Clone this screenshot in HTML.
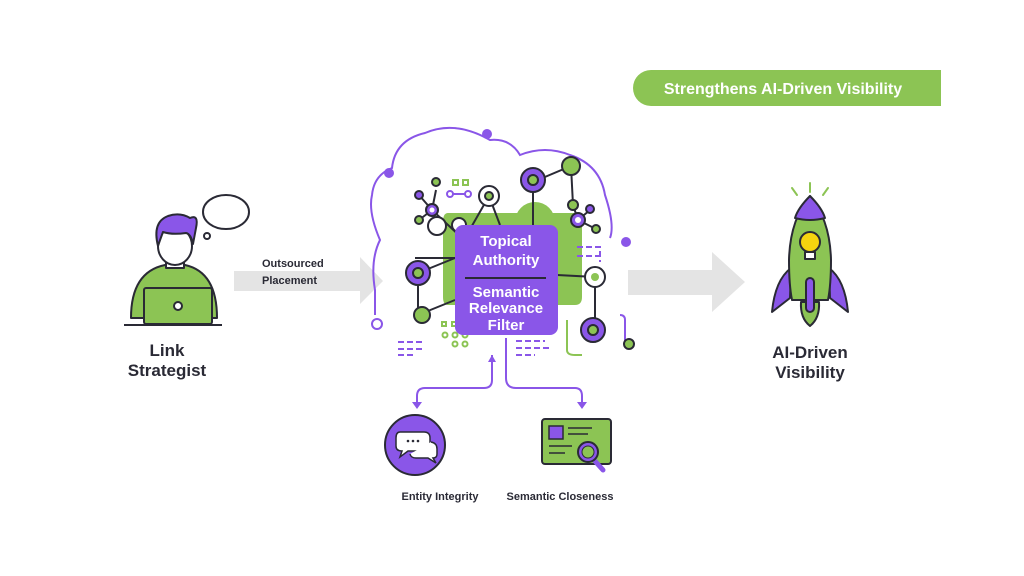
<!DOCTYPE html>
<html><head><meta charset="utf-8"><style>
html,body{margin:0;padding:0;background:#fff;width:1024px;height:576px;overflow:hidden}
svg{display:block}
text{font-family:"Liberation Sans",sans-serif;font-weight:bold}
</style></head><body>
<svg width="1024" height="576" viewBox="0 0 1024 576" xmlns="http://www.w3.org/2000/svg">
<!-- green pill -->
<path d="M651 70 H941 V106 H651 A18 18 0 0 1 651 70 Z" fill="#8cc454"/>
<text x="783" y="94" font-size="16" fill="#fff" text-anchor="middle">Strengthens AI-Driven Visibility</text>

<!-- person -->
<g stroke="#2a2a35" stroke-width="2" stroke-linejoin="round">
<path d="M131 318 Q131 272 165 265 L185 265 Q217 272 217 318 Z" fill="#8cc454"/>
<rect x="166" y="252" width="18" height="16" fill="#fff"/>
<ellipse cx="175" cy="246" rx="17" ry="19" fill="#fff"/>
<path d="M158 246 Q152 222 168 216 Q180 212 190 218 Q199 214 196 228 L193 244 Q191 234 186 233 Q172 235 163 232 Q160 240 158 246 Z" fill="#8a56e8"/>
<rect x="144" y="288" width="68" height="36" rx="2" fill="#8cc454"/>
<circle cx="178" cy="306" r="4" fill="#fff"/>
<ellipse cx="226" cy="212" rx="23" ry="17" fill="#fff"/>
<circle cx="207" cy="236" r="3" fill="#fff"/>
</g>
<line x1="124" y1="325" x2="222" y2="325" stroke="#2a2a35" stroke-width="2"/>
<text x="167" y="356" font-size="17" fill="#2a2a35" text-anchor="middle">Link</text>
<text x="167" y="376" font-size="17" fill="#2a2a35" text-anchor="middle">Strategist</text>

<!-- arrow 1 -->
<path d="M234 271 H360 V257 L383 281 L360 304 V291 H234 Z" fill="#e4e4e4"/>
<text x="262" y="267" font-size="11" fill="#2a2a35">Outsourced</text>
<text x="262" y="284" font-size="11" fill="#2a2a35">Placement</text>

<!-- cloud -->
<path d="M375 315 V290 Q370 260 380 240 Q368 212 372 195 Q374 175 392 168 Q395 140 425 133 Q455 120 490 140 Q510 138 520 155 Q545 145 570 155 Q600 165 605 195 Q615 225 610 238" fill="none" stroke="#8a56e8" stroke-width="2"/>
<circle cx="626" cy="242" r="5" fill="#8a56e8"/>
<circle cx="389" cy="173" r="5" fill="#8a56e8"/>
<circle cx="487" cy="134" r="5" fill="#8a56e8"/>
<circle cx="377" cy="324" r="5" fill="none" stroke="#8a56e8" stroke-width="2"/>
<path d="M625 342 V320 Q625 315 620 315" fill="none" stroke="#8a56e8" stroke-width="2"/>
<circle cx="629" cy="344" r="5" fill="#8cc454" stroke="#2a2a35" stroke-width="2"/>

<!-- green blob -->
<path d="M448 213 H575 Q582 213 582 222 V297 Q582 305 575 305 H448 Q443 305 443 297 V222 Q443 213 448 213 Z" fill="#8cc454"/>
<circle cx="535" cy="222" r="20" fill="#8cc454"/>

<!-- network lines -->
<g stroke="#2a2a35" stroke-width="2" fill="none">
<path d="M432 210 L462 238 M419 195 L432 210 M419 220 L432 210 M436 190 L432 210"/>
<path d="M489 196 L465 238 M489 196 L500 225"/>
<path d="M418 273 L455 258 M418 273 L418 315 M418 315 L455 300 M415 258 L455 258"/>
<path d="M533 182 L533 230 M533 182 L571 166 L573 205 L578 220 M578 220 L590 210 M578 220 L596 229"/>
<path d="M557 275 L595 277 L595 330"/>
</g>
<!-- nodes -->
<g stroke="#2a2a35" stroke-width="2">
<circle cx="432" cy="210" r="6" fill="#8a56e8"/><circle cx="432" cy="210" r="2.5" fill="#fff" stroke="none"/>
<circle cx="419" cy="195" r="4" fill="#8a56e8"/>
<circle cx="436" cy="182" r="4" fill="#8cc454"/>
<circle cx="419" cy="220" r="4" fill="#8cc454"/>
<circle cx="489" cy="196" r="10" fill="#fff"/><circle cx="489" cy="196" r="4" fill="#8cc454"/>
<circle cx="437" cy="226" r="9" fill="#fff"/>
<circle cx="459" cy="225" r="7" fill="#fff"/>
<circle cx="418" cy="273" r="12" fill="#8a56e8"/><circle cx="418" cy="273" r="5" fill="#8cc454"/>
<circle cx="422" cy="315" r="8" fill="#8cc454"/>
<circle cx="533" cy="180" r="12" fill="#8a56e8"/><circle cx="533" cy="180" r="5" fill="#8cc454"/>
<circle cx="571" cy="166" r="9" fill="#8cc454"/>
<circle cx="573" cy="205" r="5" fill="#8cc454"/>
<circle cx="578" cy="220" r="7" fill="#8a56e8"/><circle cx="578" cy="220" r="3" fill="#fff" stroke="none"/>
<circle cx="590" cy="209" r="4" fill="#8a56e8"/>
<circle cx="596" cy="229" r="4" fill="#8cc454"/>
<circle cx="595" cy="277" r="10" fill="#fff"/><circle cx="595" cy="277" r="4" fill="#8cc454" stroke="none"/>
<circle cx="593" cy="330" r="12" fill="#8a56e8"/><circle cx="593" cy="330" r="5" fill="#8cc454"/>
</g>
<g fill="none" stroke="#8cc454" stroke-width="2">
<rect x="453" y="180" width="5" height="5"/><rect x="463" y="180" width="5" height="5"/>
<rect x="442" y="322" width="4" height="4"/><rect x="452" y="322" width="4" height="4"/>
<circle cx="445" cy="335" r="2.5"/><circle cx="455" cy="335" r="2.5"/><circle cx="465" cy="335" r="2.5"/>
<circle cx="455" cy="344" r="2.5"/><circle cx="465" cy="344" r="2.5"/>
</g>
<path d="M452 194 H468" stroke="#8a56e8" stroke-width="2"/>
<circle cx="450" cy="194" r="3" fill="#fff" stroke="#8a56e8" stroke-width="2"/><circle cx="468" cy="194" r="3" fill="#fff" stroke="#8a56e8" stroke-width="2"/>
<g stroke="#8a56e8" stroke-width="2" fill="none">
<path d="M398 342 H425 M398 349 H425 M398 355 H415 M516 341 H545 M516 348 H550 M516 355 H535 M577 247 H600 V262 M577 256 H600" stroke-dasharray="6 3"/>
<path d="M567 320 V350 Q567 355 575 355 H582" stroke="#8cc454"/>
</g>

<!-- central box -->
<rect x="455" y="225" width="103" height="110" rx="8" fill="#8a56e8"/>
<g fill="#fff" font-size="15" text-anchor="middle">
<text x="506" y="246">Topical</text>
<text x="506" y="265">Authority</text>
<text x="506" y="297">Semantic</text>
<text x="506" y="313">Relevance</text>
<text x="506" y="330">Filter</text>
</g>
<line x1="465" y1="278" x2="546" y2="278" stroke="#2a2a35" stroke-width="2"/>

<!-- bottom connectors -->
<g fill="none" stroke="#8a56e8" stroke-width="2">
<path d="M492 355 V380 Q492 388 484 388 H425 Q417 388 417 396 V402"/>
<path d="M506 338 V378 Q506 388 516 388 H575 Q582 388 582 396 V402"/>
</g>
<path d="M412 402 L422 402 L417 409 Z M577 402 L587 402 L582 409 Z M488 362 L496 362 L492 355 Z" fill="#8a56e8"/>

<!-- entity icon -->
<circle cx="415" cy="445" r="30" fill="#8a56e8" stroke="#2a2a35" stroke-width="2"/>
<path d="M400 432 H424 Q430 432 430 438 V446 Q430 451 424 451 H408 L400 457 L402 451 Q396 451 396 446 V438 Q396 432 400 432 Z" fill="#fff" stroke="#2a2a35" stroke-width="1.5"/>
<path d="M431 442 Q437 443 437 449 V454 Q437 458 433 458 L436 463 L428 458 H416 Q411 458 410 454" fill="#fff" stroke="#2a2a35" stroke-width="1.5"/>
<circle cx="408" cy="441" r="1.3" fill="#2a2a35"/><circle cx="413" cy="441" r="1.3" fill="#2a2a35"/><circle cx="418" cy="441" r="1.3" fill="#2a2a35"/>

<!-- card icon -->
<rect x="542" y="419" width="69" height="45" rx="3" fill="#8cc454" stroke="#2a2a35" stroke-width="2"/>
<rect x="549" y="426" width="14" height="13" fill="#8a56e8" stroke="#2a2a35" stroke-width="1.5"/>
<g stroke="#2a2a35" stroke-width="1.5"><path d="M568 428 H592 M568 434 H588 M549 446 H572 M549 453 H565"/></g>
<line x1="594" y1="460" x2="603" y2="470" stroke="#8a56e8" stroke-width="5" stroke-linecap="round"/>
<circle cx="588" cy="452" r="10" fill="#8a56e8" stroke="#2a2a35" stroke-width="2"/>
<circle cx="588" cy="452" r="6" fill="#8cc454" stroke="#2a2a35" stroke-width="1"/>
<text x="440" y="500" font-size="11" fill="#2a2a35" text-anchor="middle">Entity Integrity</text>
<text x="560" y="500" font-size="11" fill="#2a2a35" text-anchor="middle">Semantic Closeness</text>

<!-- arrow 2 -->
<path d="M628 270 H712 V252 L745 282 L712 312 V295 H628 Z" fill="#e4e4e4"/>

<!-- rocket -->
<g stroke="#8cc454" stroke-width="2" stroke-linecap="round"><path d="M792 188 L797 195 M810 183 V192 M828 188 L823 195"/></g>
<g stroke="#2a2a35" stroke-width="2" stroke-linejoin="round">
<path d="M791 268 Q775 280 772 312 L790 298 Z" fill="#8a56e8"/>
<path d="M829 268 Q845 280 848 312 L830 298 Z" fill="#8a56e8"/>
<path d="M810 196 Q790 220 789 260 Q789 285 792 300 H828 Q831 285 831 260 Q830 220 810 196 Z" fill="#8cc454"/>
<path d="M810 196 Q798 208 795 218 Q810 222 825 218 Q822 208 810 196 Z" fill="#8a56e8"/>
<circle cx="810" cy="242" r="10" fill="#f5d40f"/>
<rect x="805" y="252" width="10" height="7" fill="#fff"/>
<path d="M801 302 Q800 318 810 326 Q820 318 819 302 Z" fill="#8cc454"/>
<rect x="806" y="278" width="8" height="34" rx="4" fill="#8a56e8"/>
</g>
<text x="810" y="358" font-size="17" fill="#2a2a35" text-anchor="middle">AI-Driven</text>
<text x="810" y="378" font-size="17" fill="#2a2a35" text-anchor="middle">Visibility</text>
</svg>
</body></html>
